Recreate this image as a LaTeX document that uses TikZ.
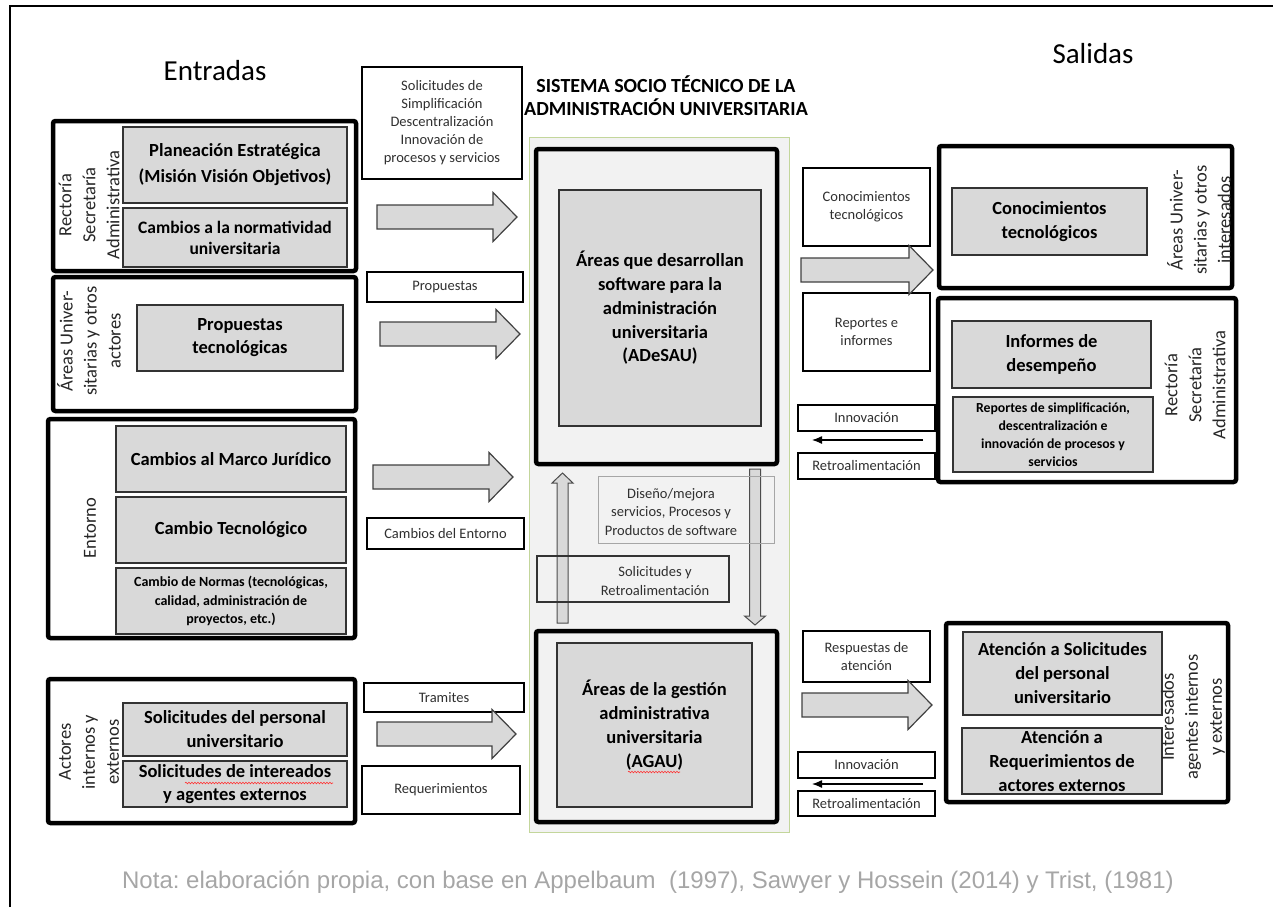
\documentclass[tikz,border=0pt]{standalone}
\usepackage{fontspec}
\setmainfont{Carlito}
\newfontfamily\notefont{Liberation Sans}
\usetikzlibrary{arrows.meta,decorations.pathmorphing}
\frenchspacing

\definecolor{boxgray}{HTML}{D9D9D9}
\definecolor{panel}{HTML}{F2F2F2}
\definecolor{panelrim}{HTML}{C3D69B}
\definecolor{notegray}{HTML}{A6A6A6}
\definecolor{labelink}{HTML}{303030}

% rectangle node given by its two corners (pixel units, y downwards)
\newcommand\placebox[7]{%
  \node[#1, minimum width={#5pt-#3pt}, minimum height={#6pt-#4pt}]
    (#2) at ({(#3+#5)/2},{(#4+#6)/2}) {#7};}

% wide horizontal block arrow: tail x, head base x, tip x, axis y
\newcommand\blockarrow[4]{%
  \draw[blockstyle] ({#1},{#4-12}) -- ({#2},{#4-12}) -- ({#2},{#4-24.5})
    -- ({#3},{#4}) -- ({#2},{#4+24.5}) -- ({#2},{#4+12}) -- ({#1},{#4+12}) -- cycle;}

% slim vertical arrow: axis x, tail y, head base y, tip y
\newcommand\slimarrow[4]{%
  \draw[slimstyle] ({#1-5.5},{#2}) -- ({#1-5.5},{#3}) -- ({#1-10.5},{#3})
    -- ({#1},{#4}) -- ({#1+10.5},{#3}) -- ({#1+5.5},{#3}) -- ({#1+5.5},{#2}) -- cycle;}

\begin{document}
\begin{tikzpicture}[x=1pt,y=-1pt,
  groupbox/.style={draw=black, line width=4.5pt, rounded corners=2.5pt, inner sep=0pt, outer sep=0pt},
  graybox/.style={draw=black!80, line width=1.3pt, fill=boxgray, inner sep=0pt, outer sep=0pt,
    align=center, font=\bfseries\fontsize{18.5}{24}\selectfont},
  smallgray/.style={graybox, font=\bfseries\fontsize{14}{18.3}\selectfont},
  tagbox/.style={draw=black, line width=1.2pt, fill=white, inner sep=0pt, outer sep=0pt,
    align=center, text=labelink, font=\fontsize{14.5}{18}\selectfont},
  plaintag/.style={inner sep=0pt, align=center, text=labelink, font=\fontsize{14.5}{18.5}\selectfont},
  sidelabel/.style={rotate=90, align=center, inner sep=0pt, text=black!85,
    font=\fontsize{18.5}{24}\selectfont},
  blockstyle/.style={draw=black!75, line width=1.2pt, fill=boxgray, line join=miter},
  slimstyle/.style={draw=black!70, line width=1pt, fill=boxgray, line join=miter},
  feedback/.style={-{Latex[length=10pt,width=8pt]}, line width=1.2pt},
  spell/.style={draw=red!80, line width=0.6pt, decorate,
    decoration={snake, segment length=3pt, amplitude=0.8pt}}
]
\useasboundingbox (0,0) rectangle (1273,907);

% page frame
\draw[line width=2.3pt, line join=miter] (10,907) -- (10,6) -- (1273,6);

% headings
\node[font=\fontsize{29}{34}\selectfont] (entradas) at (215,71) {Entradas};
\node[font=\fontsize{29}{34}\selectfont] (salidas) at (1093,54) {Salidas};
\node[align=center, font=\bfseries\fontsize{20}{23}\selectfont] (titulo) at (666,96)
  {SISTEMA SOCIO TÉCNICO DE LA\\ADMINISTRACIÓN UNIVERSITARIA};

% ---------------- inputs ----------------
\placebox{groupbox}{rectoria}{53}{121}{356}{271}{}
\placebox{graybox, font=\bfseries\fontsize{18.5}{26}\selectfont}{planeacion}{123}{127}{347}{203}
  {Planeación Estratégica\\(Misión Visión Objetivos)}
\placebox{graybox, font=\bfseries\fontsize{17.5}{21}\selectfont}{normatividad}{123}{208}{347}{267}
  {Cambios a la normatividad\\universitaria}
\node[sidelabel] (rectoriaL) at (89,205) {Rectoría\\Secretaría\\Administrativa};

\placebox{groupbox}{areas}{53}{277}{356}{411}{}
\placebox{graybox, font=\bfseries\fontsize{18.5}{23}\selectfont}{propuestasT}{137}{305}{343}{371}
  {Propuestas\\tecnológicas}
\node[sidelabel] (areasL) at (89,341) {Áreas Univer-\\sitarias y otros\\actores};

\placebox{groupbox}{entorno}{48}{419}{355}{638}{}
\placebox{graybox}{marco}{116}{426}{346}{492}{Cambios al Marco Jurídico}
\placebox{graybox}{tecno}{116}{497}{346}{563}{Cambio Tecnológico}
\placebox{smallgray}{normas}{116}{568}{346}{634}
  {Cambio de Normas (tecnológicas,\\calidad, administración de\\proyectos, etc.)}
\node[sidelabel] (entornoL) at (90,528) {Entorno};

\placebox{groupbox}{actores}{48}{679}{355}{823}{}
\placebox{graybox}{personal}{123}{703}{347}{756}{Solicitudes del personal\\universitario}
\placebox{graybox, font=\bfseries\fontsize{18.5}{23}\selectfont}{interesados}{123}{761}{347}{807}
  {Solicitudes de intereados\\y agentes externos}
\draw[spell] (185,783) -- (333,783);
\node[sidelabel] (actoresL) at (89,752) {Actores\\internos y\\externos};

% input flows
\placebox{tagbox}{solicitudesT}{362}{67}{522}{179}
  {Solicitudes de\\Simplificación\\Descentralización\\Innovación de\\procesos y servicios}
\placebox{tagbox}{propuestasL}{367}{272}{523}{302}{Propuestas}
\placebox{tagbox}{entornoT}{367}{518}{524}{549}{Cambios del Entorno}
\placebox{tagbox}{tramites}{364}{683}{524}{712}{Tramites}
\placebox{tagbox}{requerimientos}{362}{766}{520}{814}{Requerimientos}
\blockarrow{377}{493}{517}{217}
\blockarrow{380}{496}{520}{334}
\blockarrow{373}{489}{513}{477}
\blockarrow{377}{492}{516}{734}

% ---------------- socio-technical system ----------------
\placebox{fill=panel, draw=panelrim, line width=1pt, inner sep=0pt}{sistema}{529}{137}{789}{832}{}
\placebox{groupbox, fill=panel}{adesauB}{536}{149}{777}{464}{}
\placebox{graybox, font=\bfseries\fontsize{18.5}{23.8}\selectfont}{adesau}{559}{190}{761}{426}
  {Áreas que desarrollan\\software para la\\administración\\universitaria\\(ADeSAU)}
\placebox{groupbox, fill=panel}{agauB}{536}{631}{777}{822}{}
\placebox{graybox}{agau}{557}{643}{752}{807}
  {Áreas de la gestión\\administrativa\\universitaria\\(AGAU)}
\draw[spell] (628,772) -- (680,772);

\slimarrow{562.5}{623}{483}{473}
\slimarrow{755}{469}{616}{625}
\placebox{draw=black!35, line width=1pt, inner sep=0pt}{diseno}{598}{476}{774}{543}{}
\node[plaintag] (disenoT) at (671,512) {Diseño/mejora\\servicios, Procesos y\\Productos de software};
\placebox{draw=black!80, line width=1.2pt, inner sep=0pt}{retro}{537}{556}{729}{602}{}
\node[plaintag] (retroT) at (655,581) {Solicitudes y\\Retroalimentación};

% ---------------- outputs ----------------
\placebox{groupbox}{outAreas}{939}{146}{1232}{288}{}
\placebox{graybox}{conoc}{952}{188}{1147}{255}{Conocimientos\\tecnológicos}
\node[sidelabel] (outAreasL) at (1199,220) {Áreas Univer-\\sitarias y otros\\interesados};

\placebox{groupbox}{outRect}{938}{298}{1236}{482}{}
\placebox{graybox}{desemp}{952}{321}{1151}{388}{Informes de\\desempeño}
\placebox{smallgray, font=\bfseries\fontsize{13.8}{18}\selectfont}{simplif}{953}{397}{1153}{472}
  {Reportes de simplificación,\\descentralización e\\innovación de procesos y\\servicios}
\node[sidelabel] (outRectL) at (1195,385) {Rectoría\\Secretaría\\Administrativa};

\placebox{groupbox}{outInt}{946}{623}{1228}{802}{}
\placebox{graybox}{atSol}{963}{632}{1162}{715}{Atención a Solicitudes\\del personal\\universitario}
\placebox{graybox}{atReq}{962}{728}{1162}{794}{Atención a\\Requerimientos de\\actores externos}
\node[sidelabel] (outIntL) at (1193,717) {Interesados\\agentes internos\\y externos};

% output flows
\placebox{tagbox}{conocT}{803}{168}{930}{246}{Conocimientos\\tecnológicos}
\placebox{tagbox}{reportesT}{803}{293}{930}{371}{Reportes e\\informes}
\placebox{tagbox}{innovA}{798}{405}{935}{431}{Innovación}
\placebox{tagbox}{retroA}{798}{453}{935}{479}{Retroalimentación}
\placebox{tagbox}{respuestasT}{803}{631}{930}{682}{Respuestas de\\atención}
\placebox{tagbox}{innovB}{798}{752}{935}{778}{Innovación}
\placebox{tagbox}{retroB}{798}{791}{935}{816}{Retroalimentación}
\blockarrow{801}{909}{933}{270}
\blockarrow{802}{908}{932}{705}

% feedback arrows back towards the system
\coordinate (fbAs) at (923,440);
\coordinate (fbAe) at (812,440);
\coordinate (fbBs) at (923,784);
\coordinate (fbBe) at (812,784);
\draw[feedback] (fbAs) -- (fbAe);
\draw[feedback] (fbBs) -- (fbBe);

% source note
\node[anchor=base, text=notegray, font=\notefont\fontsize{24}{28}\selectfont] (nota) at (648,888)
  {Nota: elaboración propia, con base en Appelbaum\ \ (1997), Sawyer y Hossein (2014) y Trist, (1981)};
\end{tikzpicture}
\end{document}
